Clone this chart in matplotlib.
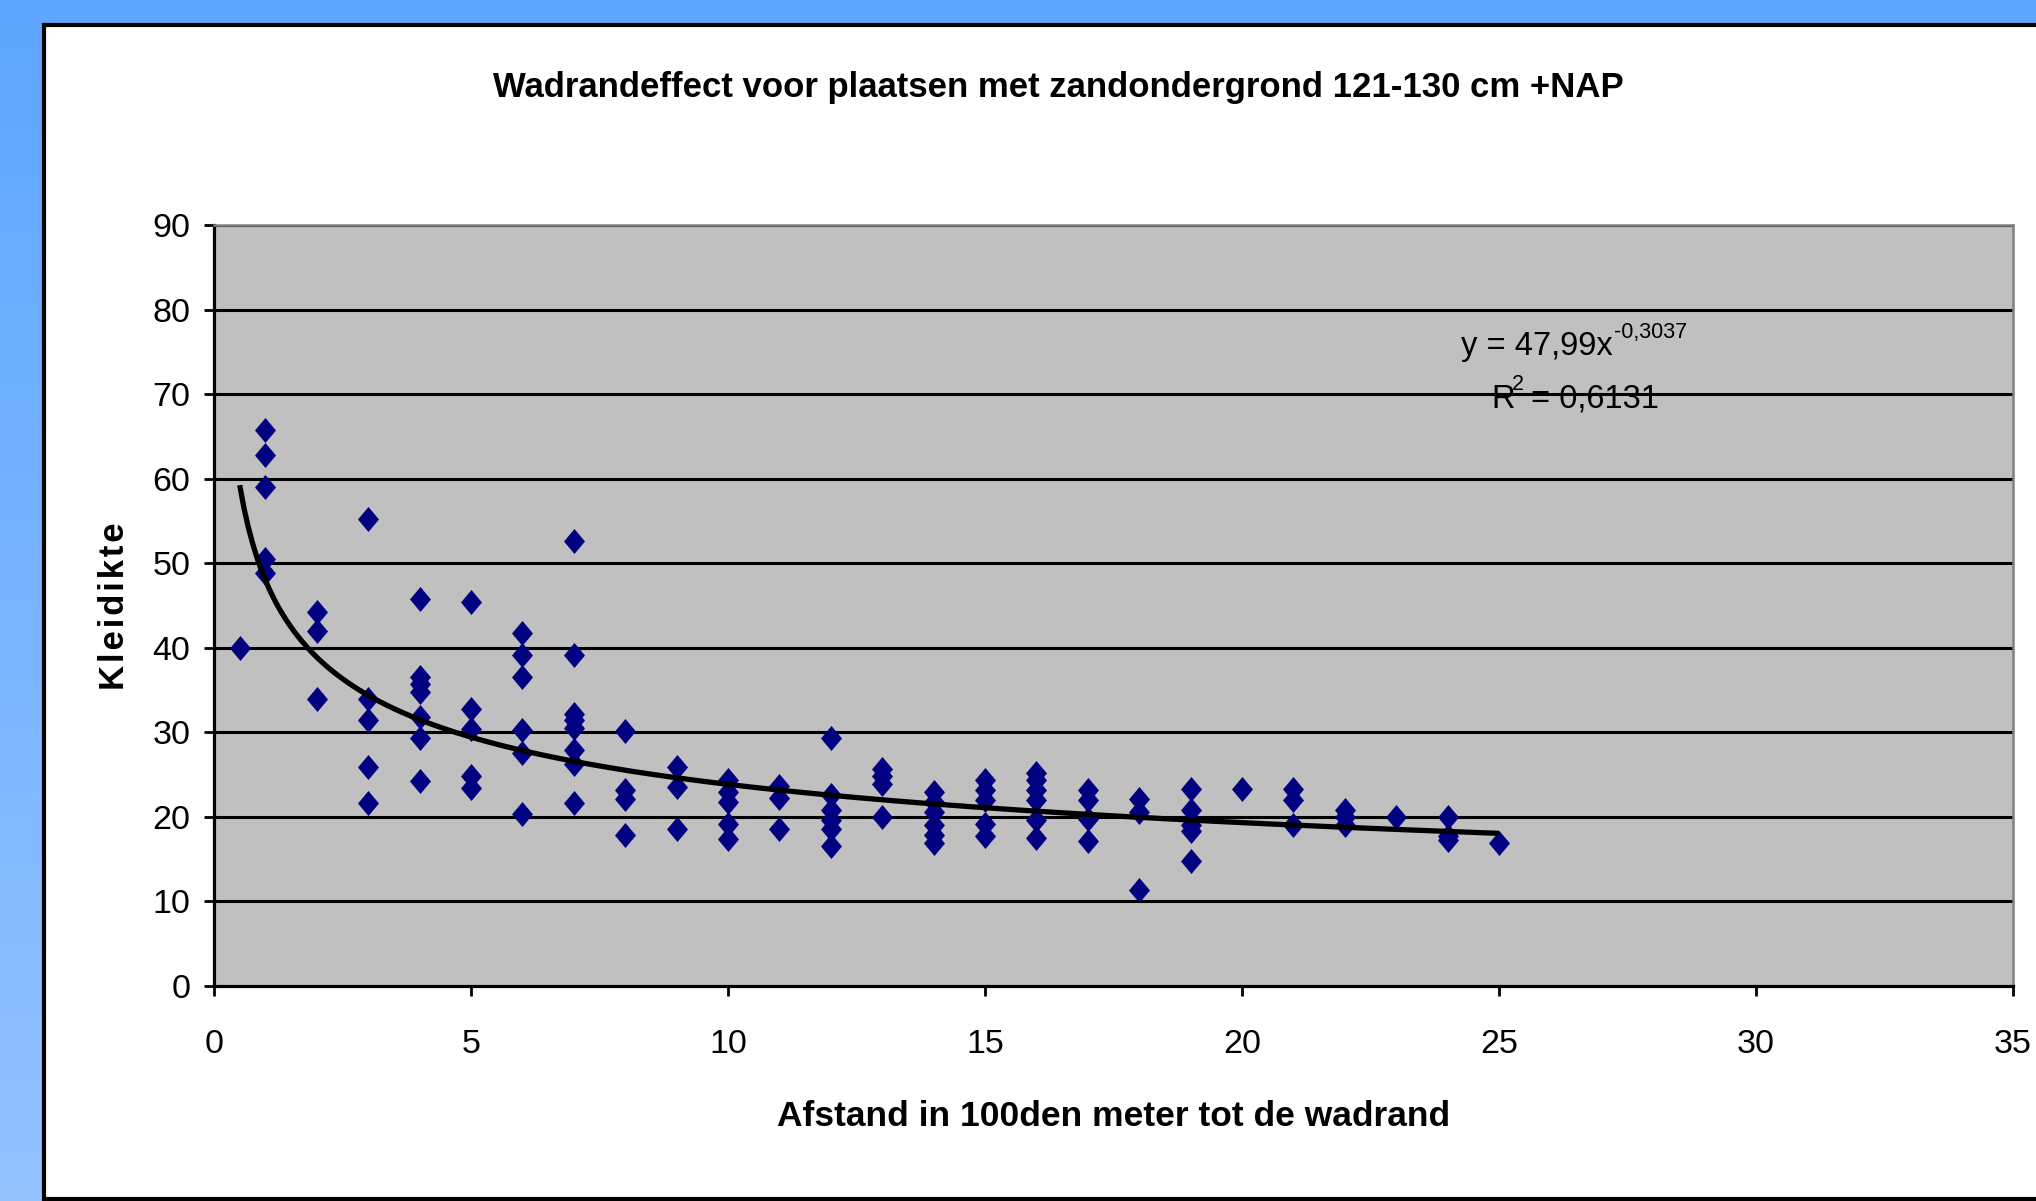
import numpy as np
import matplotlib
matplotlib.use("Agg")
import matplotlib.pyplot as plt
from matplotlib.patches import Rectangle
from matplotlib.colors import LinearSegmentedColormap

# ---------------- data ----------------
afstand = ([0.5] + [1]*5 + [2]*3 + [3]*5 + [4]*7 + [5]*5 + [6]*6 + [7]*8 + [8]*4 + [9]*3 +
           [10]*5 + [11]*3 + [12]*6 + [13]*4 + [14]*6 + [15]*5 + [16]*6 + [17]*4 + [18]*3 +
           [19]*5 + [20]*1 + [21]*3 + [22]*3 + [23]*1 + [24]*3 + [25]*1)
kleidikte = ([40.0] +
             [65.8, 62.8, 59.0, 50.5, 48.8] +
             [44.2, 42.0, 33.9] +
             [55.2, 34.0, 31.4, 25.9, 21.7] +
             [45.8, 36.6, 35.7, 34.8, 31.8, 29.3, 24.2] +
             [45.4, 32.8, 30.4, 24.8, 23.4] +
             [41.7, 39.1, 36.5, 30.3, 27.5, 20.4] +
             [52.6, 39.1, 32.2, 31.5, 30.5, 27.9, 26.3, 21.7] +
             [30.1, 23.2, 22.1, 17.9] +
             [25.9, 23.5, 18.6] +
             [24.4, 23.0, 21.8, 19.1, 17.4] +
             [23.6, 22.2, 18.6] +
             [29.3, 22.6, 20.8, 19.6, 18.6, 16.5] +
             [25.7, 24.8, 23.9, 20.0] +
             [23.0, 21.8, 20.6, 19.0, 17.9, 16.9] +
             [24.4, 23.2, 22.0, 19.2, 17.7] +
             [25.2, 24.4, 23.2, 22.0, 19.6, 17.5] +
             [23.2, 22.0, 19.8, 17.1] +
             [22.1, 20.6, 11.4] +
             [23.3, 20.8, 19.0, 18.3, 14.8] +
             [23.3] +
             [23.3, 22.0, 19.0] +
             [20.8, 20.0, 19.0] +
             [20.0] +
             [20.0, 17.7, 17.3] +
             [16.9])

# power trendline as reported on the chart: y = a * x^b
trend_a = 47.99
trend_b = -0.3037
trend_r2 = "0,6131"
trend_range = (0.5, 25)

xticks = [0, 5, 10, 15, 20, 25, 30, 35]
yticks = [0, 10, 20, 30, 40, 50, 60, 70, 80, 90]

title = "Wadrandeffect voor plaatsen met zandondergrond 121-130 cm +NAP"
xlabel = "Afstand in 100den meter tot de wadrand"
ylabel = "Kleidikte"

# ---------------- figure ----------------
W, H = 2036, 1201
plt.rcParams['font.family'] = ['Liberation Sans', 'DejaVu Sans']
fig = plt.figure(figsize=(W/100, H/100), dpi=100)

# background: blue gradient + white chart area with black border
bg = fig.add_axes([0, 0, 1, 1], zorder=-5)
cmap = LinearSegmentedColormap.from_list("bl", ["#5EA6FF", "#93C2FF"])
grad = np.linspace(0, 1, 256).reshape(-1, 1)
bg.imshow(grad, aspect='auto', cmap=cmap, extent=[0, W, H, 0])
bg.add_patch(Rectangle((44, 25), W + 50, 1174, facecolor='white',
                       edgecolor='black', linewidth=3))
bg.set_xlim(0, W)
bg.set_ylim(H, 0)
bg.axis('off')

# main plot area
ax = fig.add_axes([214/W, 1 - 986/H, (2013-214)/W, (986-225)/H])
ax.set_facecolor('#C0C0C0')
ax.set_xlim(0, 35)
ax.set_ylim(0, 90)
ax.set_xticks(xticks)
ax.set_yticks(yticks)
ax.set_xticklabels([str(t) for t in xticks])
ax.set_yticklabels([str(t) for t in yticks])
ax.tick_params(axis='both', direction='out', length=7, width=2, labelsize=24.5, colors='black')
ax.tick_params(axis='x', pad=24)
ax.tick_params(axis='y', pad=10)

for g in yticks[1:]:
    ax.axhline(g, color='black', linewidth=2.2, zorder=1)

for s in ['left', 'bottom']:
    ax.spines[s].set_color('black')
    ax.spines[s].set_linewidth(2.3)
for s in ['top', 'right']:
    ax.spines[s].set_color('#808080')
    ax.spines[s].set_linewidth(1.8)

# data points (diamonds)
diamond = [(0, 1), (0.84, 0), (0, -1), (-0.84, 0), (0, 1)]
ax.plot(afstand, kleidikte, linestyle='none', marker=diamond, markersize=18,
        color='#000080', markeredgewidth=0, zorder=3)

# trendline
xt = np.linspace(trend_range[0], trend_range[1], 300)
ax.plot(xt, trend_a * xt ** trend_b, color='black', linewidth=3.8, zorder=4,
        solid_capstyle='butt')

# trendline equation
fig.text(1461/W, 1 - 355/H, "y = 47,99x", fontsize=23.5, va='baseline', ha='left')
fig.text(1614/W, 1 - 338/H, "-0,3037", fontsize=15.5, va='baseline', ha='left')
fig.text(1491/W, 1 - 408/H, "R", fontsize=23.5, va='baseline', ha='left')
fig.text(1512/W, 1 - 390/H, "2", fontsize=15.5, va='baseline', ha='left')
fig.text(1531/W, 1 - 408/H, "= 0,6131", fontsize=23.5, va='baseline', ha='left')

# titles
fig.text(1058/W, 1 - 88/H, title, fontsize=25, fontweight='bold', ha='center', va='center')
fig.text(1114/W, 1 - 1117/H, xlabel, fontsize=25.5, fontweight='bold', ha='center', va='center')
fig.text(114/W, 1 - 606/H, "K l e i d i k t e".replace(" ", "\u200a"), fontsize=25,
         fontweight='bold', ha='center', va='center', rotation=90)

fig.savefig("out.png", dpi=100)
